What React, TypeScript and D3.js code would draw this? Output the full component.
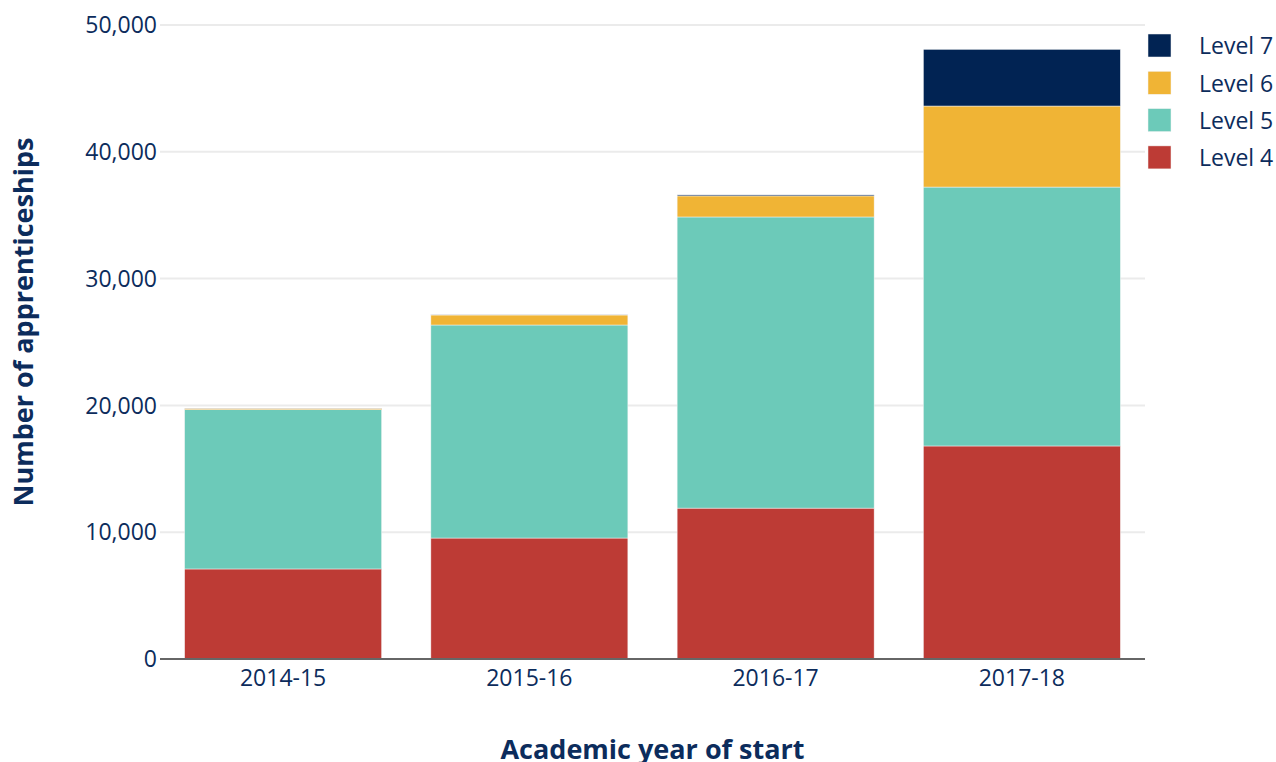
import { useEffect, useRef } from "react";
import * as d3 from "d3";

const years = ["2014-15", "2015-16", "2016-17", "2017-18"];
const level4 = [7100, 9540, 11900, 16800];
const level5 = [12560, 16800, 22960, 20420];
const level6 = [110, 790, 1660, 6390];
const level7 = [10, 20, 80, 4470];
const levels = ["Level 4", "Level 5", "Level 6", "Level 7"];
const colours = ["#bd3b35", "#6ccab9", "#f0b435", "#012353"];
const yTicks = [0, 10000, 20000, 30000, 40000, 50000];

const App = () => {
  const ref = useRef<SVGSVGElement>(null);

  useEffect(() => {
    const width = 1276;
    const height = 762;
    const margin = { top: 25, right: 131, bottom: 103, left: 160 };
    const font = "'Open Sans', 'Noto Sans', sans-serif";
    const textColour = "#0c2c5c";

    const svg = d3.select(ref.current);
    svg.selectAll("*").remove();
    svg.attr("width", width).attr("height", height)
      .style("display", "block")
      .style("position", "absolute")
      .style("left", "0px")
      .style("top", "0px");

    const x = d3.scaleBand().domain(years).range([margin.left, width - margin.right])
      .paddingInner(0.2).paddingOuter(0.1);
    const y = d3.scaleLinear().domain([0, 50000]).range([height - margin.bottom, margin.top]);

    // gridlines
    svg.append("g")
      .selectAll("line")
      .data(yTicks.slice(1))
      .join("line")
      .attr("x1", margin.left)
      .attr("x2", width - margin.right)
      .attr("y1", (d) => y(d))
      .attr("y2", (d) => y(d))
      .attr("stroke", "#ebebeb")
      .attr("stroke-width", 2);

    // stacked bars
    const rows = years.map((yr, i) => ({
      year: yr,
      "Level 4": level4[i],
      "Level 5": level5[i],
      "Level 6": level6[i],
      "Level 7": level7[i],
    }));
    const series = d3.stack<any>().keys(levels)(rows);

    svg.append("g")
      .selectAll("g")
      .data(series)
      .join("g")
      .attr("fill", (_, i) => colours[i])
      .selectAll("rect")
      .data((d) => d)
      .join("rect")
      .attr("x", (d) => x(d.data.year)!)
      .attr("width", x.bandwidth())
      .attr("y", (d) => y(d[1]))
      .attr("height", (d) => y(d[0]) - y(d[1]))
      .attr("stroke", "#f4f4f4")
      .attr("stroke-width", 0.5);

    // zero line
    svg.append("line")
      .attr("x1", margin.left)
      .attr("x2", width - margin.right)
      .attr("y1", y(0))
      .attr("y2", y(0))
      .attr("stroke", "#666")
      .attr("stroke-width", 2);

    // y tick labels
    svg.append("g")
      .selectAll("text")
      .data(yTicks)
      .join("text")
      .attr("x", margin.left - 3)
      .attr("y", (d) => y(d))
      .attr("dy", "0.36em")
      .attr("text-anchor", "end")
      .attr("font-family", font)
      .attr("font-size", 23)
      .attr("fill", textColour)
      .text((d) => d3.format(",")(d));

    // x tick labels
    svg.append("g")
      .selectAll("text")
      .data(years)
      .join("text")
      .attr("x", (d) => x(d)! + x.bandwidth() / 2)
      .attr("y", y(0) + 27)
      .attr("text-anchor", "middle")
      .attr("font-family", font)
      .attr("font-size", 23)
      .attr("fill", textColour)
      .text((d) => d);

    // axis titles
    svg.append("text")
      .attr("x", (margin.left + width - margin.right) / 2)
      .attr("y", 759)
      .attr("text-anchor", "middle")
      .attr("font-family", font)
      .attr("font-size", 27)
      .attr("font-weight", "bold")
      .attr("fill", textColour)
      .text("Academic year of start");

    svg.append("text")
      .attr("transform", "translate(33,322) rotate(-90)")
      .attr("text-anchor", "middle")
      .attr("font-family", font)
      .attr("font-size", 27)
      .attr("font-weight", "bold")
      .attr("fill", textColour)
      .text("Number of apprenticeships");

    // legend (top = Level 7)
    const legend = svg.append("g")
      .selectAll("g")
      .data(levels.map((l, i) => ({ l, c: colours[i] })).reverse())
      .join("g")
      .attr("transform", (_, i) => `translate(1148,${34 + i * 37.3})`);
    legend.append("rect")
      .attr("width", 23)
      .attr("height", 23)
      .attr("fill", (d) => d.c)
      .attr("stroke", "#f4f4f4")
      .attr("stroke-width", 0.5);
    legend.append("text")
      .attr("x", 51)
      .attr("y", 12)
      .attr("dy", "0.36em")
      .attr("font-family", font)
      .attr("font-size", 23)
      .attr("fill", textColour)
      .text((d) => d.l);
  }, []);

  return <svg ref={ref}></svg>;
};

export default App;
